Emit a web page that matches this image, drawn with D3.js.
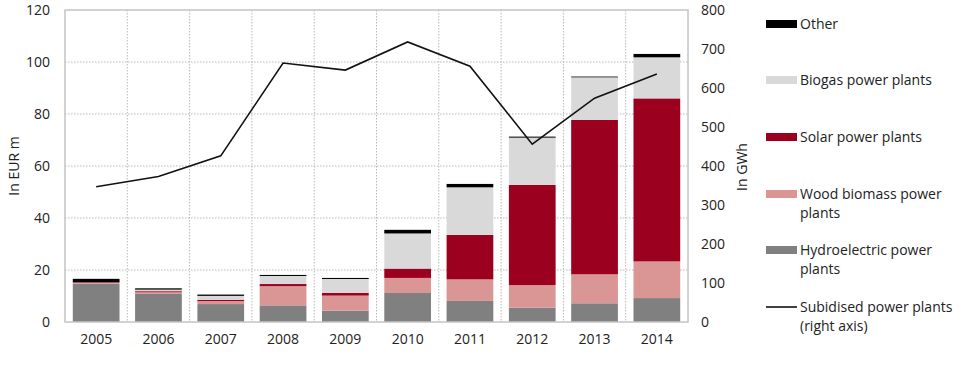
<!DOCTYPE html>
<html>
<head>
<meta charset="utf-8">
<script src="https://cdn.jsdelivr.net/npm/d3@7"></script>
<style>
  html, body { margin: 0; padding: 0; background: #fff; }
  svg { display: block; }
  text { font-family: "Open Sans", "Noto Sans", sans-serif; fill: #222; }
</style>
</head>
<body>
<svg id="chart" width="960" height="365"></svg>
<script>
const years = ["2005","2006","2007","2008","2009","2010","2011","2012","2013","2014"];
const hydro = [14.7, 10.8, 6.9, 6.4, 4.35, 11.15, 8.1, 5.5, 7.2, 9.2];
const wood = [0.4, 0.65, 1.15, 7.4, 5.8, 5.8, 8.3, 8.7, 11.15, 14.1];
const solar = [0.2, 0.4, 0.5, 0.8, 1.0, 3.6, 17.1, 38.5, 59.35, 62.7];
const biogas = [0.0, 0.6, 1.5, 3.1, 5.4, 13.5, 18.3, 18.2, 16.4, 15.8];
const other = [1.3, 0.5, 0.5, 0.4, 0.4, 1.4, 1.3, 0.4, 0.3, 1.3];
const subsidisedGWh = [347, 373, 426, 664, 646, 718, 656, 456, 574, 636];

const leftTicks = [0, 20, 40, 60, 80, 100, 120];
const rightTicks = [0, 100, 200, 300, 400, 500, 600, 700, 800];

const seriesNames = ["Hydroelectric power plants", "Wood biomass power plants", "Solar power plants", "Biogas power plants", "Other"];
const seriesValues = [hydro, wood, solar, biogas, other];
const seriesColors = ["#808080", "#d99694", "#9b001e", "#d9d9d9", "#000000"];

const svg = d3.select("#chart");
const L = 65, R = 688, T = 10, B = 322;
const FS = 14;

const x = d3.scaleBand().domain(years).range([L, R]).paddingInner(0.25).paddingOuter(0.125);
const yL = d3.scaleLinear().domain([0, 120]).range([B, T]);
const yR = d3.scaleLinear().domain([0, 800]).range([B, T]);

// grid
const g = svg.append("g");
g.selectAll(".hg").data(leftTicks.filter(d => d > 0 && d < 120)).enter().append("line")
  .attr("x1", L).attr("x2", R).attr("y1", d => yL(d)).attr("y2", d => yL(d))
  .attr("stroke", "#b8b8b8").attr("stroke-width", 1).attr("stroke-dasharray", "1.5,1.5");
const step = x.step();
g.selectAll(".vg").data(years.slice(1)).enter().append("line")
  .attr("x1", (d, i) => L + (i + 1) * step).attr("x2", (d, i) => L + (i + 1) * step)
  .attr("y1", T).attr("y2", B)
  .attr("stroke", "#b8b8b8").attr("stroke-width", 1).attr("stroke-dasharray", "1.5,1.5");

// stacked bars
const table = years.map((yr, i) => {
  const o = { year: yr };
  seriesNames.forEach((n, k) => o[n] = seriesValues[k][i]);
  return o;
});
const stack = d3.stack().keys(seriesNames)(table);
svg.append("g").selectAll("g").data(stack).enter().append("g")
  .attr("fill", (d, k) => seriesColors[k])
  .selectAll("rect").data(d => d).enter().append("rect")
  .attr("x", d => x(d.data.year))
  .attr("width", x.bandwidth())
  .attr("y", d => yL(d[1]))
  .attr("height", d => Math.max(0, yL(d[0]) - yL(d[1])));

// frame
svg.append("rect").attr("x", L).attr("y", T).attr("width", R - L).attr("height", B - T)
  .attr("fill", "none").attr("stroke", "#c4c4c4").attr("stroke-width", 1.5);

// line
const line = d3.line().x((d, i) => x(years[i]) + x.bandwidth() / 2).y(d => yR(d));
svg.append("path").datum(subsidisedGWh).attr("d", line)
  .attr("fill", "none").attr("stroke", "#111").attr("stroke-width", 1.6);

// axes
const axL = svg.append("g").attr("transform", `translate(${L - 15},0)`)
  .call(d3.axisLeft(yL).tickValues(leftTicks).tickSize(0).tickPadding(0));
axL.select(".domain").remove();
axL.selectAll("text").attr("font-size", FS).attr("font-family", "'Open Sans', sans-serif").attr("fill", "#222");

const axR = svg.append("g").attr("transform", `translate(${R + 13},0)`)
  .call(d3.axisRight(yR).tickValues(rightTicks).tickSize(0).tickPadding(0));
axR.select(".domain").remove();
axR.selectAll("text").attr("font-size", FS).attr("font-family", "'Open Sans', sans-serif").attr("fill", "#222");

const axB = svg.append("g").attr("transform", `translate(0,${B + 9})`)
  .call(d3.axisBottom(x).tickSize(0).tickPadding(0));
axB.select(".domain").remove();
axB.selectAll("text").attr("font-size", FS).attr("font-family", "'Open Sans', sans-serif").attr("fill", "#222").attr("dy", "0.9em");

// axis titles
svg.append("text").attr("transform", "translate(19,166) rotate(-90)")
  .attr("text-anchor", "middle").attr("font-size", FS).text("In EUR m");
svg.append("text").attr("transform", "translate(747,167) rotate(-90)")
  .attr("text-anchor", "middle").attr("font-size", FS).text("In GWh");

// legend
const legendItems = [
  { lines: ["Other"], color: "#000000", y: 24 },
  { lines: ["Biogas power plants"], color: "#d9d9d9", y: 80 },
  { lines: ["Solar power plants"], color: "#9b001e", y: 137 },
  { lines: ["Wood biomass power", "plants"], color: "#d99694", y: 194 },
  { lines: ["Hydroelectric power", "plants"], color: "#808080", y: 250 },
  { lines: ["Subidised power plants", "(right axis)"], color: "#111", y: 307, isLine: true }
];
const lg = svg.append("g");
legendItems.forEach(it => {
  if (it.isLine) {
    lg.append("line").attr("x1", 766).attr("x2", 797).attr("y1", it.y).attr("y2", it.y)
      .attr("stroke", it.color).attr("stroke-width", 1.6);
  } else {
    lg.append("rect").attr("x", 766).attr("y", it.y - 4).attr("width", 31).attr("height", 8).attr("fill", it.color);
  }
  it.lines.forEach((t, j) => {
    lg.append("text").attr("x", 800).attr("y", it.y + j * 19.5).attr("dy", "0.35em")
      .attr("font-size", FS).text(t);
  });
});
</script>
</body>
</html>
